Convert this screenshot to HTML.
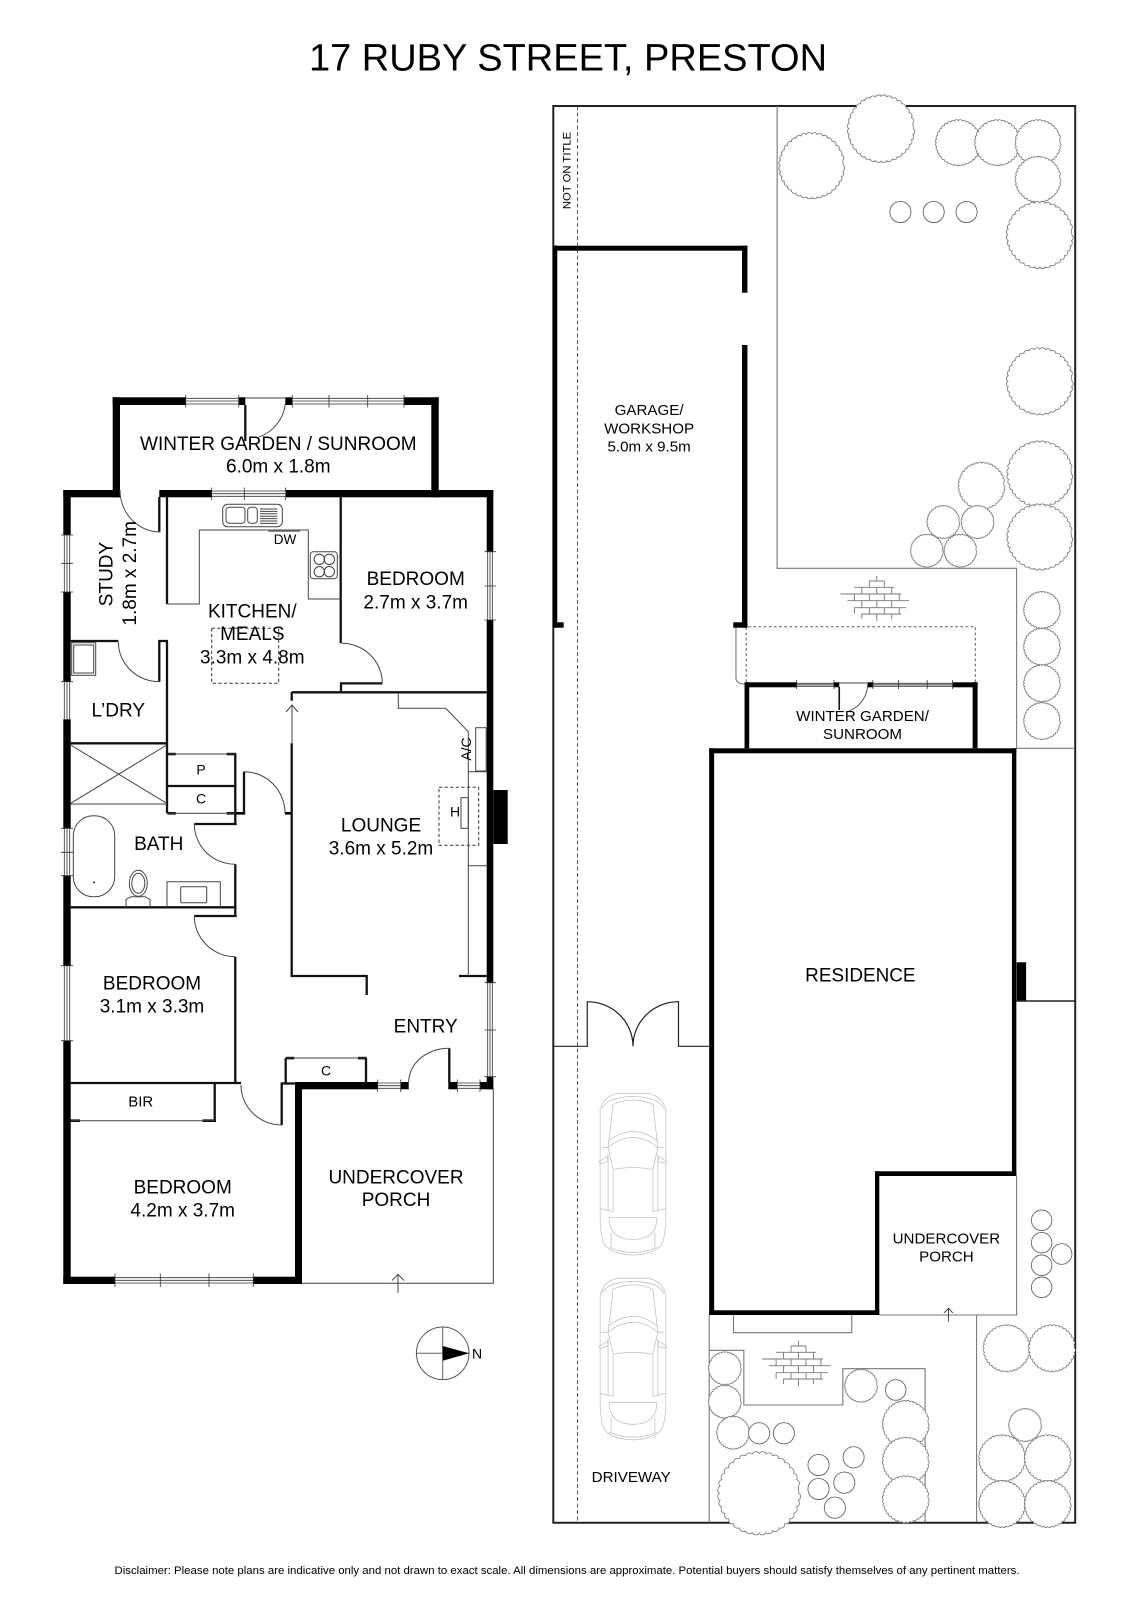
<!DOCTYPE html>
<html><head><meta charset="utf-8"><title>17 Ruby Street, Preston</title>
<style>
html,body{margin:0;padding:0;background:#fff}
svg{display:block}
text{font-family:"Liberation Sans",Arial,sans-serif;fill:#000;text-anchor:middle}
.l{font-size:19px}.m{font-size:15.2px}.s{font-size:14px}
</style></head><body>
<svg xmlns="http://www.w3.org/2000/svg" width="1131" height="1600" viewBox="0 0 1131 1600">
<defs>
<path id="t" transform="scale(.96)" fill="#fff" stroke="#777" stroke-width="0.8" vector-effect="non-scaling-stroke" d="M100 0A10 10 0 0 1 98.5 17.4A10 10 0 0 1 94 34.2A10 10 0 0 1 86.6 50A10 10 0 0 1 76.6 64.3A10 10 0 0 1 64.3 76.6A10 10 0 0 1 50 86.6A10 10 0 0 1 34.2 94A10 10 0 0 1 17.4 98.5A10 10 0 0 1 0 100A10 10 0 0 1 -17.4 98.5A10 10 0 0 1 -34.2 94A10 10 0 0 1 -50 86.6A10 10 0 0 1 -64.3 76.6A10 10 0 0 1 -76.6 64.3A10 10 0 0 1 -86.6 50A10 10 0 0 1 -94 34.2A10 10 0 0 1 -98.5 17.4A10 10 0 0 1 -100 0A10 10 0 0 1 -98.5 -17.4A10 10 0 0 1 -94 -34.2A10 10 0 0 1 -86.6 -50A10 10 0 0 1 -76.6 -64.3A10 10 0 0 1 -64.3 -76.6A10 10 0 0 1 -50 -86.6A10 10 0 0 1 -34.2 -94A10 10 0 0 1 -17.4 -98.5A10 10 0 0 1 0 -100A10 10 0 0 1 17.4 -98.5A10 10 0 0 1 34.2 -94A10 10 0 0 1 50 -86.6A10 10 0 0 1 64.3 -76.6A10 10 0 0 1 76.6 -64.3A10 10 0 0 1 86.6 -50A10 10 0 0 1 94 -34.2A10 10 0 0 1 98.5 -17.4Z"/>
<g id="brick" fill="none" stroke="#777" stroke-width="0.9">
<path d="M-5 -19H10M-20 -12.7H20M-34 -6H27M-27 .7H35M-20 7.7H32M-13 14H27"/>
<path d="M2.5 -24V-19M-5 -19V-12.7M10 -19V-12.7M-12.5 -12.7V-6M2.5 -12.7V-6M17.5 -12.7V-6M-20 -6V.7M-5 -6V.7M10 -6V.7M25 -6V.7M-12.5 .7V7.7M2.5 .7V7.7M17.5 .7V7.7M-20 7.7V14M-5 7.7V14M10 7.7V14M25 7.7V14M-12.5 14V19M2.5 14V21M17.5 14V19"/>
</g>
<g id="car" fill="none" stroke="#c4c4c4" stroke-width="0.8">
<path d="M-16 0Q-30 3 -33 17L-33 120Q-33 145 -28 152Q-20 161 0 161.5Q20 161 28 152Q33 145 33 120L33 17Q30 3 16 0Z"/>
<path d="M-16 5Q0 1 16 5M-31 15Q-27 7 -16 5M31 15Q27 7 16 5"/>
<path d="M-25 54Q0 34 25 54L20 76Q0 72 -20 76Z"/>
<path d="M-25 48Q0 28 25 48M-25 54L-20 11Q0 2 20 11L25 54M-31 54H-25M31 54H25"/>
<path d="M-25 60L-25 117L-20 118L-20 77M25 60L25 117L20 118L20 77"/>
<path d="M-34 68L-26 63L-25 68L-33 70ZM34 68L26 63L25 68L33 70Z"/>
<path d="M-24 124H24M-24 124Q-24 146 0 146Q24 146 24 124M-22 139V154M22 139V154M-24 154Q0 164 24 154"/>
<path d="M-33 115L-25 117M33 115L25 117"/>
</g>
</defs>

<text x="568" y="70.7" style="font-size:38px">17 RUBY STREET, PRESTON</text>
<text x="567" y="1574" style="font-size:10.6px" textLength="905" lengthAdjust="spacingAndGlyphs">Disclaimer: Please note plans are indicative only and not drawn to exact scale. All dimensions are approximate. Potential buyers should satisfy themselves of any pertinent matters.</text>

<!-- LEFT PLAN: thick walls -->
<g fill="#000">
<rect x="112.7" y="397.3" width="73" height="7.7"/><rect x="238.7" y="397.3" width="6.6" height="7.7"/><rect x="285.3" y="397.3" width="7" height="7.7"/><rect x="404" y="397.3" width="34.7" height="7.7"/>
<rect x="112.7" y="397.3" width="7.3" height="100"/><rect x="431.3" y="397.3" width="7.4" height="100"/>
<rect x="63.3" y="490" width="56.7" height="7.3"/><rect x="159.3" y="490" width="52.4" height="7.3"/><rect x="285.7" y="490" width="207.6" height="7.3"/>
<rect x="63.3" y="490" width="7.4" height="45"/><rect x="63.3" y="592" width="7.4" height="89.7"/><rect x="63.3" y="719.3" width="7.4" height="109"/><rect x="63.3" y="875.7" width="7.4" height="90"/><rect x="63.3" y="1040.7" width="7.4" height="243.3"/>
<rect x="486.7" y="490" width="6.6" height="61.7"/><rect x="486.7" y="620" width="6.6" height="362.7"/><rect x="486.7" y="1076.7" width="6.6" height="12.6"/>
<rect x="63.3" y="1276.7" width="51.7" height="7.3"/><rect x="253.3" y="1276.7" width="48.7" height="7.3"/>
<rect x="295" y="1082" width="7" height="202"/>
<rect x="295" y="1082" width="82.7" height="7.3"/><rect x="400.7" y="1082" width="8" height="7.3"/><rect x="448.3" y="1082" width="9" height="7.3"/><rect x="480" y="1082" width="13.3" height="7.3"/>
<rect x="493.3" y="790" width="14.4" height="54"/>
<!-- stubs -->
<rect x="167.3" y="752.8" width="8.5" height="2.5"/><rect x="226.7" y="752.8" width="9.5" height="2.5"/>
<rect x="167.3" y="812" width="8.5" height="2.6"/><rect x="226.7" y="812" width="18.5" height="2.6"/>
<rect x="285" y="812" width="7" height="2.6"/>
<rect x="70.7" y="1119.4" width="9.3" height="2.6"/><rect x="202.5" y="1119.4" width="13.5" height="2.6"/>
<rect x="285.7" y="1056.8" width="8.5" height="2.6"/><rect x="358" y="1056.8" width="8.5" height="2.6"/>
</g>

<!-- LEFT PLAN: thin structural walls -->
<g fill="none" stroke="#111" stroke-width="2.3">
<path d="M167 497V604"/>
<path d="M340.7 497V643.3M341 692V683.4H382.3"/>
<path d="M291.7 692.3H486.7M291.7 692V700.7"/>
<path d="M291.7 743.3V976H366.7V995"/>
<path d="M459 976H486.7"/>
<path d="M167 641V813.3M159.3 681.7V641H168M70.7 641H118.3"/>
<path d="M70.7 743.3H167"/>
<path d="M167.3 786H235.3"/>
<path d="M235.3 754V825M194.3 824H236.7"/>
<path d="M244 813.3V771.7"/>
<path d="M70.7 907.3H236M235.3 864.3V917M194.3 916H236.7"/>
<path d="M235.3 956.7V1084M70.7 1083H241"/>
<path d="M214.7 1083V1121"/>
<path d="M281.7 1125V1083.5H295"/>
<path d="M285.7 1058V1083M366 1058V1083"/>
<path d="M159.3 497V532"/>
<path d="M449.3 1048.3V1082"/>
<path d="M245.3 405V441"/>
</g>

<!-- LEFT PLAN: thin lines -->
<g fill="none" stroke="#444" stroke-width="1">
<path d="M167 604H199.3V530H308.3V599H340.7"/>
<path d="M398.3 693V708.3H445.7L468.3 731.7V976"/>
<path d="M468.3 771.7H486.7M468.3 865.7H486.7"/>
<rect x="475.7" y="727.7" width="10.5" height="43.3"/>
<rect x="461" y="797.7" width="7.3" height="30.6"/>
<path d="M70.7 804H167M70.7 745L166.7 803.3M70.7 803.3L166.7 745"/>
<path d="M167.3 754H235M167.3 813.3H235M70.7 1120.7H215M285.7 1058H366"/>
<rect x="73.3" y="815.7" width="41.4" height="81" rx="20" ry="20"/>
<ellipse cx="138.3" cy="883.3" rx="9" ry="13"/><ellipse cx="138.3" cy="883.3" rx="6.5" ry="10"/>
<path d="M126 907.3V899.5L131 896.7H145L150 899.5V907.3"/>
<path d="M167 907V881.7H220.3V907"/>
<rect x="180.7" y="886.7" width="26" height="16" rx="1"/>
<rect x="71.7" y="642.7" width="24" height="32.6"/><rect x="73.7" y="645" width="20" height="28"/>
<rect x="222.7" y="504.3" width="59.6" height="22.4" rx="5"/>
<rect x="226" y="507.3" width="19" height="16" rx="3"/><rect x="247.7" y="507.3" width="9.6" height="16" rx="3"/>
<path d="M260 509H277.3M260 511.4H277.3M260 513.8H277.3M260 516.2H277.3M260 518.6H277.3M260 521H277.3M260 523.4H277.3"/>
<rect x="310.3" y="551.7" width="27" height="27" rx="3"/>
<circle cx="319.3" cy="559.3" r="5.2"/><circle cx="329.3" cy="559.3" r="5.2"/><circle cx="319.3" cy="571.7" r="5.2"/><circle cx="329.3" cy="571.7" r="5.2"/>
<path d="M493.3 1089V1283.3H302"/>
<!-- doors arcs -->
<path d="M285.3 404A40 40 0 0 1 259 437"/>
<path d="M120 490A40 42 0 0 0 159.3 532"/>
<path d="M341.7 643.3A40.6 40 0 0 1 382.3 683.3"/>
<path d="M118.3 641.7A41 40 0 0 0 159.3 681.7"/>
<path d="M244 771.7A41 41.6 0 0 1 285 813.3"/>
<path d="M194.3 824A41 40.3 0 0 0 235.3 864.3"/>
<path d="M194.3 916A41 40.7 0 0 0 235.3 956.7"/>
<path d="M408.7 1082A40.6 33.7 0 0 1 449.3 1048.3"/>
<path d="M241 1085A40.7 40 0 0 0 281.7 1125"/>
<!-- arrows -->
<path d="M292 743V705M286 712L292 705L298 712"/>
<path d="M398 1292.7V1274.3M392 1280.5L398 1274.3L404 1280.5"/>
</g>
<path fill="none" stroke="#333" stroke-width="1" stroke-dasharray="3.2 2.4" d="M211.7 628.3H278.7V683.3H211.7ZM439 787.3H478.7V845.3H439Z"/>
<circle cx="94" cy="882.3" r="0.9" fill="#000"/>
<path d="M268.3 531H300" stroke="#666" stroke-width="1.6"/>
<path d="M245.3 398H285.3" stroke="#444" stroke-width="1"/>

<!-- LEFT PLAN: windows -->
<g fill="none" stroke="#333" stroke-width="0.8">
<path d="M185.7 398.3H238.7M185.7 401H238.7M185.7 404H238.7M185.7 395V407.5M238.7 395V407.5"/>
<path d="M292.3 398.3H404M292.3 401H404M292.3 404H404M292.3 395V407.5M329 395V407.5M367.7 395V407.5M404 395V407.5"/>
<path d="M211.7 491H285.7M211.7 493.7H285.7M211.7 496.3H285.7M211.7 487.5V500M244.3 487.5V500M285.7 487.5V500"/>
<path d="M64.3 535V592M67 535V592M69.7 535V592M61 535H73M61 563.3H73M61 592H73"/>
<path d="M64.3 681.7V719.3M67 681.7V719.3M69.7 681.7V719.3M61 681.7H73"/>
<path d="M64.3 828.3V875.7M67 828.3V875.7M69.7 828.3V875.7M61 828.3H73M61 852.3H73M61 875.7H73"/>
<path d="M64.3 965.7V1040.7M67 965.7V1040.7M69.7 965.7V1040.7M61 965.7H73M61 1040.7H73"/>
<path d="M487.7 551.7V620M490 551.7V620M492.3 551.7V620M484.5 551.7H496M484.5 586H496M484.5 620H496"/>
<path d="M487.7 982.7V1076.7M490 982.7V1076.7M492.3 982.7V1076.7M484.5 982.7H496M484.5 1030H496M484.5 1076.7H496"/>
<path d="M377.7 1083H400.7M377.7 1085.7H400.7M377.7 1088.3H400.7M377.7 1079.5V1092M400.7 1079.5V1092"/>
<path d="M457.3 1083H480M457.3 1085.7H480M457.3 1088.3H480M457.3 1079.5V1092M480 1079.5V1092"/>
<path d="M115 1277.7H253.3M115 1280.3H253.3M115 1283H253.3M115 1273.5V1287M160.3 1273.5V1287M209 1273.5V1287M253.3 1273.5V1287"/>
</g>

<!-- LEFT PLAN: labels -->
<g class="l">
<text class="l" x="278.3" y="450">WINTER GARDEN / SUNROOM</text>
<text class="l" x="278.3" y="472.7">6.0m x 1.8m</text>
<text class="l" x="112.7" y="574" transform="rotate(-90 112.7 574)">STUDY</text>
<text class="l" x="136" y="573.3" transform="rotate(-90 136 573.3)">1.8m x 2.7m</text>
<text class="l" x="252.3" y="617.3">KITCHEN/</text>
<text class="l" x="252.3" y="640">MEALS</text>
<text class="l" x="252.3" y="663.3">3.3m x 4.8m</text>
<text class="l" x="415.7" y="585">BEDROOM</text>
<text class="l" x="415.7" y="608.3">2.7m x 3.7m</text>
<text class="l" x="118.3" y="716.7">L’DRY</text>
<text class="l" x="158.7" y="850">BATH</text>
<text class="l" x="381" y="831.7">LOUNGE</text>
<text class="l" x="381" y="854.3">3.6m x 5.2m</text>
<text class="l" x="152" y="989.3">BEDROOM</text>
<text class="l" x="152" y="1012.3">3.1m x 3.3m</text>
<text class="l" x="425.7" y="1032.3">ENTRY</text>
<text class="l" x="182.7" y="1193.3">BEDROOM</text>
<text class="l" x="182.7" y="1216.7">4.2m x 3.7m</text>
<text class="l" x="396" y="1183.3">UNDERCOVER</text>
<text class="l" x="396" y="1206">PORCH</text>
</g>
<text class="s" x="285" y="544" style="font-size:13.5px">DW</text>
<text class="s" x="201" y="774.5">P</text>
<text class="s" x="201" y="803.5">C</text>
<text class="s" x="326" y="1075.5">C</text>
<text class="s" x="140.7" y="1106.5" style="font-size:15px">BIR</text>
<text class="s" x="455" y="816.5">H</text>
<text class="s" x="471" y="749" transform="rotate(-90 471 749)">A/C</text>

<!-- Compass -->
<circle cx="442.7" cy="1353.3" r="26.3" fill="none" stroke="#555" stroke-width="1"/>
<path d="M416.4 1353.3H469M442.7 1327V1379.6" stroke="#666" stroke-width="1"/>
<path d="M442.7 1346L469 1353.3L442.7 1360.7Z" fill="#000"/>
<text x="477" y="1358.3" style="font-size:14px">N</text>

<!-- RIGHT PLAN -->
<g transform="translate(553.3 0) scale(.996 1) translate(-553.3 0)">
<path d="M553.3 106H1077.3V1522.7H553.3Z" fill="none" stroke="#222" stroke-width="2"/>
<path d="M577.7 106V1522" fill="none" stroke="#333" stroke-width="0.8" stroke-dasharray="4 2.5"/>
<text x="570.5" y="170.5" style="font-size:11.3px" transform="rotate(-90 570.5 170.5)">NOT ON TITLE</text>
<g fill="none" stroke="#777" stroke-width="1.1">
<path d="M778 106V568.3H1018.5V748.3H1077"/>
<path d="M1018.5 1176V1315H880.6"/>
<path d="M734.2 1315V1332.7H853V1315"/>
<path d="M709.8 1315V1522M978.3 1315V1522"/>
<path d="M709.8 1350.3H744.6V1405H844V1368.7H926.6V1522"/>
<path d="M736.7 627.7V678Q736.7 684 746.4 684"/>
</g>
<path d="M747 682V626.7H977V682" fill="none" stroke="#555" stroke-width="1" stroke-dasharray="2.6 2.6"/>
<use href="#brick" transform="translate(875.6 600)"/>
<use href="#brick" transform="translate(797 1365)"/>

<!-- Garage + residence -->
<g fill="#000">
<rect x="553" y="245.7" width="195.2" height="5"/>
<rect x="553" y="245.7" width="4.3" height="382"/>
<rect x="553" y="622.3" width="10.7" height="5.4"/>
<rect x="742.8" y="245.7" width="5.4" height="47"/>
<rect x="742.8" y="345" width="5.4" height="282.7"/>
<rect x="734" y="622.3" width="14.2" height="5.4"/>
<rect x="745.3" y="682.3" width="52.4" height="5"/><rect x="835" y="682.3" width="5.4" height="5"/><rect x="869" y="682.3" width="5.2" height="5"/><rect x="954.2" y="682.3" width="25.1" height="5"/>
<rect x="745.3" y="682.3" width="4.7" height="66"/><rect x="974.3" y="682.3" width="5" height="66"/>
<rect x="709.8" y="748.3" width="308.4" height="5"/>
<rect x="709.8" y="748.3" width="5" height="566.7"/>
<rect x="1013.8" y="748.3" width="4.4" height="427.7"/>
<rect x="876.3" y="1171.3" width="141.9" height="4.7"/>
<rect x="876.3" y="1171.3" width="4.3" height="143.7"/>
<rect x="709.8" y="1310.3" width="170.8" height="4.7"/>
<rect x="1018.5" y="962.3" width="9.5" height="38.7"/>
</g>
<path d="M1018 1001H1077" stroke="#222" stroke-width="1.5"/>
<g fill="none" stroke="#333" stroke-width="0.8">
<path d="M797.7 683.3H835M797.7 684.8H835M797.7 686.3H835M797.7 680V689M835 680V689"/>
<path d="M874.2 683.3H954.2M874.2 684.8H954.2M874.2 686.3H954.2M874.2 680V689M900 680V689M928.7 680V689M954.2 680V689"/>
</g>
<path d="M840.4 687V710" stroke="#111" stroke-width="1.6"/>
<path d="M840.4 683H869A28.6 29 0 0 1 850 711" fill="none" stroke="#444" stroke-width="0.9"/>
<path d="M553.3 1046.3H587.4V1001.7A45.9 44.6 0 0 1 633.3 1046.3A45.7 44.6 0 0 1 679 1001.7V1046.3H709.8" fill="none" stroke="#222" stroke-width="1.2"/>
<path d="M950 1321.7V1308.3M945.5 1313L950 1308.3L954.5 1313" fill="none" stroke="#333" stroke-width="0.9"/>

<!-- Cars -->
<use href="#car" transform="translate(633.3 1093.5)"/>
<use href="#car" transform="translate(633.3 1278.3)"/>

<!-- Trees -->
<use href="#t" transform="translate(812.8 165.7) scale(.33)"/>
<use href="#t" transform="translate(882.4 128.7) scale(.337)"/>
<use href="#t" transform="translate(960 142.7) scale(.23)"/>
<use href="#t" transform="translate(999.4 142.7) scale(.23)"/>
<use href="#t" transform="translate(1040 142.7) scale(.23)"/>
<use href="#t" transform="translate(1040 179.3) scale(.23)"/>
<use href="#t" transform="translate(1041.8 235) scale(.335)"/>
<use href="#t" transform="translate(1041.8 381.3) scale(.335)"/>
<use href="#t" transform="translate(1041.8 474) scale(.33)"/>
<use href="#t" transform="translate(1041.8 537) scale(.33)"/>
<use href="#t" transform="translate(983.3 485.7) scale(.235)"/>
<use href="#t" transform="translate(944.9 522) scale(.165)"/>
<use href="#t" transform="translate(979.3 522) scale(.165)"/>
<use href="#t" transform="translate(928.4 550.7) scale(.165)"/>
<use href="#t" transform="translate(962 550.7) scale(.165)"/>
<use href="#t" transform="translate(1044 610) scale(.185)"/>
<use href="#t" transform="translate(1044 646.7) scale(.185)"/>
<use href="#t" transform="translate(1044 683.3) scale(.185)"/>
<use href="#t" transform="translate(1044 721) scale(.185)"/>
<use href="#t" transform="translate(1008.4 1348.3) scale(.235)"/>
<use href="#t" transform="translate(1054 1348.3) scale(.235)"/>
<use href="#t" transform="translate(1027 1425) scale(.165)"/>
<use href="#t" transform="translate(1004 1458.3) scale(.235)"/>
<use href="#t" transform="translate(1049.7 1458.3) scale(.235)"/>
<use href="#t" transform="translate(1004 1504) scale(.235)"/>
<use href="#t" transform="translate(1049.7 1504) scale(.235)"/>
<use href="#t" transform="translate(725.6 1368.3) scale(.165)"/>
<use href="#t" transform="translate(725.6 1401.7) scale(.165)"/>
<use href="#t" transform="translate(733.8 1432.7) scale(.165)"/>
<use href="#t" transform="translate(760 1493.3) scale(.415)"/>
<use href="#t" transform="translate(862.3 1385.7) scale(.165)"/>
<use href="#t" transform="translate(907.2 1424) scale(.235)"/>
<use href="#t" transform="translate(907.2 1460.7) scale(.235)"/>
<use href="#t" transform="translate(907.2 1499.3) scale(.235)"/>
<g fill="#fff" stroke="#666" stroke-width="0.9">
<circle cx="901.8" cy="212" r="10.6"/><circle cx="935.2" cy="212" r="10.6"/><circle cx="968.2" cy="212" r="10.6"/>
<circle cx="1043.6" cy="1220.3" r="10.3"/><circle cx="1043.6" cy="1242.7" r="10.3"/><circle cx="1043.6" cy="1265.3" r="10.3"/><circle cx="1043.6" cy="1287.3" r="10.3"/><circle cx="1063.7" cy="1254" r="10.3"/>
<circle cx="760" cy="1433.3" r="10.6"/><circle cx="784.8" cy="1433.3" r="10.6"/>
<circle cx="819.6" cy="1465" r="10.6"/><circle cx="854.8" cy="1457.3" r="10.6"/><circle cx="845.5" cy="1482.7" r="10.6"/><circle cx="819.6" cy="1489" r="10.6"/><circle cx="836" cy="1507.7" r="10.6"/>
<circle cx="897.1" cy="1390" r="10.3"/>
</g>

<!-- RIGHT PLAN: labels -->
<text class="m" x="649.5" y="415">GARAGE/</text>
<text class="m" x="649.5" y="433.3">WORKSHOP</text>
<text class="m" x="649.5" y="451.7">5.0m x 9.5m</text>
<text class="m" x="863.8" y="721">WINTER GARDEN/</text>
<text class="m" x="863.8" y="739">SUNROOM</text>
<text class="l" x="861.6" y="981.7">RESIDENCE</text>
<text class="m" x="948" y="1243.3">UNDERCOVER</text>
<text class="m" x="948" y="1261.7">PORCH</text>
<text class="m" x="631.5" y="1482">DRIVEWAY</text>
</g>
</svg>
</body></html>
